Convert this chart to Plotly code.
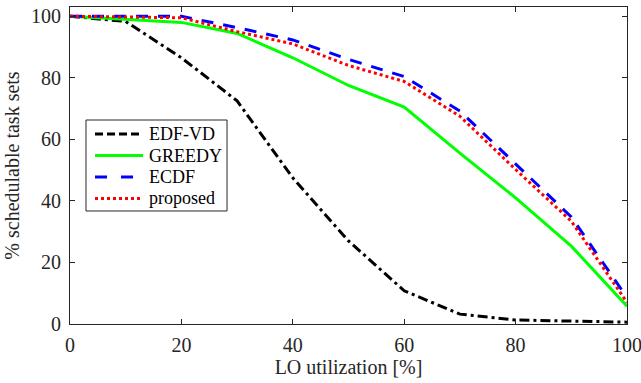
import plotly.graph_objects as go

x_util = [0, 10, 20, 30, 40, 50, 60, 70, 80, 90, 100]
edf_vd = [100, 98.3, 86.5, 72.5, 47.5, 27, 10.8, 3.2, 1.3, 1.0, 0.6]
greedy = [100, 99, 98, 94.4, 86.5, 77.5, 70.5, 55.5, 41, 25.3, 5.8]
ecdf = [100, 100, 100, 96.3, 92.3, 86, 80.4, 69.2, 52, 34.8, 8.6]
proposed = [100, 99.7, 99.5, 95, 91, 84, 78.8, 67.5, 50.2, 33.4, 7]

series_names = ["EDF-VD", "GREEDY", "ECDF", "proposed"]
series_values = [edf_vd, greedy, ecdf, proposed]

x_ticks = [0, 20, 40, 60, 80, 100]
y_ticks = [0, 20, 40, 60, 80, 100]

FONT = "Liberation Serif"
AX = "#262626"
FS = 20
LFS = 18

styles = [
    dict(color="#000000", width=3, dash="10px,4px,3px,4px"),
    dict(color="#00FF00", width=3),
    dict(color="#0000FF", width=3, dash="12px,10px"),
    dict(color="#FF0000", width=3, dash="3px,3px"),
]
legend_styles = [
    dict(color="#000000", width=3, dash="8px,4px"),
    dict(color="#00FF00", width=3),
    dict(color="#0000FF", width=3, dash="12px,14px"),
    dict(color="#FF0000", width=3, dash="3px,3px"),
]

fig = go.Figure()
for name, vals, st in zip(series_names, series_values, styles):
    fig.add_trace(go.Scatter(x=x_util, y=vals, name=name, mode="lines", line=st,
                             showlegend=False))

# compact legend box drawn in paper coordinates
box = dict(x0=0.0287, x1=0.2819, y0=0.3565, y1=0.6435)
row_y = [0.5994, 0.5315, 0.4637, 0.3959]
shapes = [dict(type="rect", xref="paper", yref="paper", **box,
               line=dict(color=AX, width=1), fillcolor="white", layer="above")]
annotations = []
for name, st, yy in zip(series_names, legend_styles, row_y):
    shapes.append(dict(type="line", xref="paper", yref="paper",
                       x0=0.0449, x1=0.1311, y0=yy, y1=yy, line=st, layer="above"))
    annotations.append(dict(text=name, xref="paper", yref="paper", x=0.1382, y=yy,
                            xanchor="left", yanchor="middle", showarrow=False,
                            font=dict(family=FONT, size=LFS, color="#000000")))

axis_common = dict(showgrid=False, zeroline=False, showline=True, linecolor=AX,
                   linewidth=1, mirror="ticks", ticks="inside", ticklen=5,
                   tickcolor=AX, tickwidth=1, ticklabeloverflow="allow",
                   automargin=False,
                   tickfont=dict(family=FONT, size=FS, color=AX))

fig.update_layout(
    width=641, height=383,
    margin=dict(l=70, r=14, t=7, b=59),
    paper_bgcolor="white", plot_bgcolor="white",
    font=dict(family=FONT, size=FS, color=AX),
    xaxis=dict(range=[0, 100], tickvals=x_ticks, ticklabelstandoff=3,
               title=dict(text="LO utilization [%]", font=dict(family=FONT, size=FS, color=AX), standoff=2),
               **axis_common),
    yaxis=dict(range=[0, 103], tickvals=y_ticks, ticklabelstandoff=4,
               title=dict(text="% schedulable task sets", font=dict(family=FONT, size=FS, color=AX), standoff=6),
               **axis_common),
    shapes=shapes,
    annotations=annotations,
    showlegend=False,
)

fig.write_html("out.html", config={"displayModeBar": False},
               post_script="document.body.style.margin='0';document.body.style.overflow='hidden';")
